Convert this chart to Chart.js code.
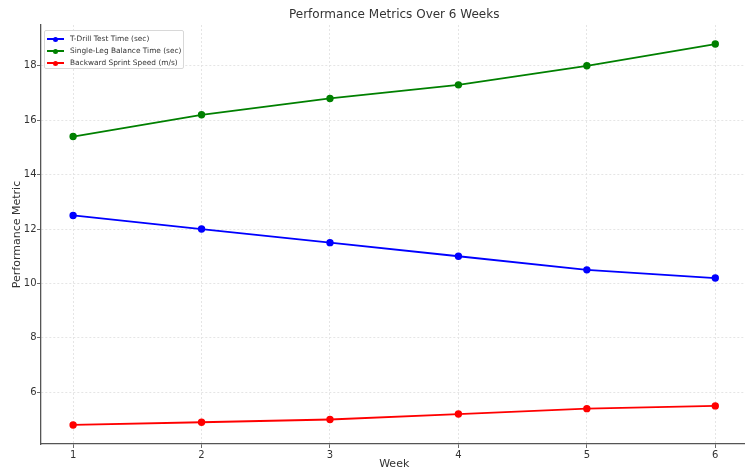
<!DOCTYPE html>
<html>
<head>
<meta charset="utf-8">
<script src="https://cdn.jsdelivr.net/npm/chart.js@4.4.1/dist/chart.umd.min.js"></script>
<style>
  html, body { margin: 0; padding: 0; background: #fff; overflow: hidden; width: 745px; height: 470px; }
  #wrap { position: relative; width: 745px; height: 470px; overflow: hidden; }
  canvas { position: absolute; left: 0; top: 0; }
  #legend { position: absolute; left: 44px; top: 30px; width: 140px; height: 39px; box-sizing: border-box;
    border: 1px solid #d8d8d8; border-radius: 2px; background: rgba(255,255,255,0.85);
    font-family: "DejaVu Sans", sans-serif; font-size: 7.4px; color: #333; padding-top: 2px; }
  .row { position: relative; height: 12px; line-height: 12px; }
  .ln { position: absolute; left: 2px; top: 5px; width: 17px; height: 2px; }
  .dot { position: absolute; left: 8px; top: 3.5px; width: 5px; height: 5px; border-radius: 50%; }
  .tx { position: absolute; left: 25px; top: 0; white-space: nowrap; }
</style>
</head>
<body>
<div id="wrap">
<canvas id="c" width="752" height="470"></canvas>
<div id="legend"></div>
</div>
<script>
const weeks = [1, 2, 3, 4, 5, 6];
const seriesNames = ["T-Drill Test Time (sec)", "Single-Leg Balance Time (sec)", "Backward Sprint Speed (m/s)"];
const tDrill = [12.5, 12.0, 11.5, 11.0, 10.5, 10.2];
const balance = [15.4, 16.2, 16.8, 17.3, 18.0, 18.8];
const sprint = [4.8, 4.9, 5.0, 5.2, 5.4, 5.5];
const yTicks = [6, 8, 10, 12, 14, 16, 18];
const xTicks = [1, 2, 3, 4, 5, 6];
const colors = ["#0000ff", "#008000", "#ff0000"];

const allSeries = [tDrill, balance, sprint];
const datasets = allSeries.map((vals, i) => ({
  label: seriesNames[i],
  data: weeks.map((w, j) => ({ x: w, y: vals[j] })),
  borderColor: colors[i],
  backgroundColor: colors[i],
  borderWidth: 1.8,
  pointRadius: 2.8,
  pointHoverRadius: 2.8,
  tension: 0
}));

const legend = document.getElementById('legend');
seriesNames.forEach((n, i) => {
  const r = document.createElement('div');
  r.className = 'row';
  r.innerHTML = `<div class="ln" style="background:${colors[i]}"></div><div class="dot" style="background:${colors[i]}"></div><div class="tx">${n}</div>`;
  legend.appendChild(r);
});

const font = "'DejaVu Sans', sans-serif";
new Chart(document.getElementById('c'), {
  type: 'line',
  data: { datasets },
  options: {
    responsive: false,
    animation: false,
    layout: { padding: { left: 0, right: 0, top: 0, bottom: 0 } },
    plugins: {
      legend: { display: false },
      tooltip: { enabled: false },
      title: {
        display: true,
        fullSize: false,
        text: "Performance Metrics Over 6 Weeks",
        color: '#333',
        font: { family: font, size: 12, weight: 'normal' },
        padding: { top: 8, bottom: 2.6 }
      }
    },
    scales: {
      x: {
        type: 'linear',
        min: 0.75, max: 6.25,
        afterBuildTicks: s => { s.ticks = xTicks.map(v => ({ value: v })); },
        afterFit: s => { s.height = 26; },
        grid: { color: '#e2e2e2', lineWidth: 0.9, tickLength: 4, tickColor: '#444', tickWidth: 0.8 },
        border: { display: true, color: '#555', width: 1.3, dash: [2, 2] },
        ticks: { color: '#333', font: { family: font, size: 10 }, padding: 1.5, maxRotation: 0 },
        title: { display: true, text: 'Week', color: '#333', font: { family: font, size: 11, lineHeight: 1.0 }, padding: { top: 0, bottom: 0 } }
      },
      y: {
        min: 4.1, max: 19.5,
        afterBuildTicks: s => { s.ticks = yTicks.map(v => ({ value: v })); },
        afterFit: s => { s.width = 41; },
        grid: { color: '#e2e2e2', lineWidth: 0.9, tickLength: 4, tickColor: '#444', tickWidth: 0.8 },
        border: { display: true, color: '#555', width: 1.3, dash: [2, 2] },
        ticks: { color: '#333', font: { family: font, size: 10 }, padding: 0.5 },
        title: { display: true, text: 'Performance Metric', color: '#333', font: { family: font, size: 11 }, padding: { top: 11, bottom: 0 } }
      }
    }
  }
});
</script>
</body>
</html>
